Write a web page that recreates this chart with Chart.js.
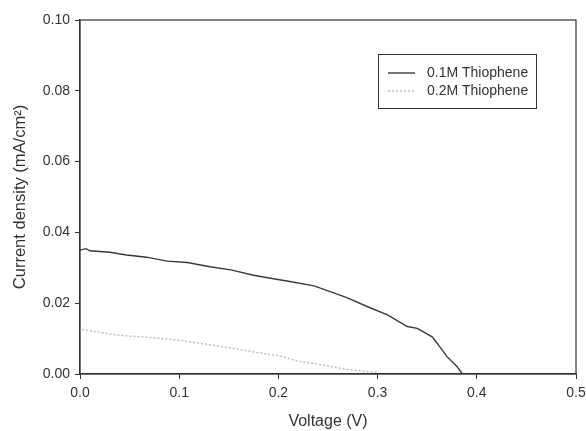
<!DOCTYPE html>
<html>
<head>
<meta charset="utf-8">
<script src="https://cdn.jsdelivr.net/npm/chart.js@4.4.1/dist/chart.umd.min.js"></script>
<style>
  html, body { margin: 0; padding: 0; background: #fff; }
  #wrap { width: 586px; height: 431px; }
</style>
</head>
<body>
<div id="wrap"><canvas id="chart" width="586" height="431"></canvas></div>
<script>
// 0.1M Thiophene (solid line)
const voltage01 = [0.000, 0.006, 0.010, 0.030, 0.047, 0.067, 0.088, 0.108, 0.131, 0.152, 0.175, 0.195,
    0.210, 0.236, 0.269, 0.290, 0.310, 0.330, 0.340, 0.355, 0.360, 0.370, 0.380, 0.3855];
const current01 = [0.0350, 0.0354, 0.0348, 0.0344, 0.0336, 0.0330, 0.0319, 0.0315, 0.0303, 0.0294, 0.0279, 0.0269,
    0.0262, 0.0249, 0.0216, 0.0190, 0.0167, 0.0134, 0.0129, 0.0105, 0.0087, 0.0049, 0.0021, 0.0000];

// 0.2M Thiophene (dotted line)
const voltage02 = [0.002, 0.010, 0.037, 0.071, 0.098, 0.121, 0.155, 0.189, 0.202, 0.222, 0.236, 0.269, 0.300];
const current02 = [0.0126, 0.0122, 0.0110, 0.0103, 0.0096, 0.0087, 0.0072, 0.0056, 0.0051, 0.0035, 0.0030, 0.0013, 0.0004];

const seriesNames = ['0.1M Thiophene', '0.2M Thiophene'];
const xTicks = [0.0, 0.1, 0.2, 0.3, 0.4, 0.5];
const yTicks = [0.00, 0.02, 0.04, 0.06, 0.08, 0.10];

const axisColor = '#333';
const textColor = '#333';
const fontFamily = '"Liberation Sans", Arial, sans-serif';

function toPoints(xs, ys) {
    return xs.map((x, i) => ({x: x, y: ys[i]}));
}

// full frame around the plot area + legend box inside it
const framePlugin = {
    id: 'frame',
    afterDraw(chart) {
        const ctx = chart.ctx;
        const a = chart.chartArea;
        ctx.save();
        ctx.strokeStyle = axisColor;
        ctx.lineWidth = 1.2;
        ctx.strokeRect(a.left, a.top, a.right - a.left, a.bottom - a.top);

        // legend
        const bx = a.right - 198, by = a.top + 34, bw = 158, bh = 54;
        ctx.lineWidth = 1;
        ctx.strokeRect(bx + 0.5, by + 0.5, bw, bh);
        ctx.font = '14px ' + fontFamily;
        ctx.textBaseline = 'middle';
        chart.data.datasets.forEach((ds, i) => {
            const y = by + 19 + i * 18;
            ctx.strokeStyle = ds.borderColor;
            ctx.lineWidth = ds.borderWidth;
            ctx.setLineDash(ds.borderDash || []);
            ctx.beginPath();
            ctx.moveTo(bx + 10, y);
            ctx.lineTo(bx + 37, y);
            ctx.stroke();
            ctx.setLineDash([]);
            ctx.fillStyle = textColor;
            ctx.fillText(ds.label, bx + 49, y);
        });
        ctx.restore();
    }
};

new Chart(document.getElementById('chart'), {
    type: 'line',
    data: {
        datasets: [{
            label: seriesNames[0],
            data: toPoints(voltage01, current01),
            borderColor: '#3a3a3a',
            borderWidth: 1.4,
            pointRadius: 0,
            tension: 0,
            fill: false
        }, {
            label: seriesNames[1],
            data: toPoints(voltage02, current02),
            borderColor: '#c9b9bd',
            borderWidth: 1.5,
            borderDash: [2, 2],
            pointRadius: 0,
            tension: 0,
            fill: false
        }]
    },
    options: {
        responsive: false,
        animation: false,
        layout: {padding: {left: 0, right: 10, top: 20, bottom: 0}},
        plugins: {legend: {display: false}, tooltip: {enabled: false}},
        scales: {
            x: {
                type: 'linear',
                min: 0,
                max: 0.5,
                afterBuildTicks(scale) {
                    scale.ticks = xTicks.map(v => ({value: v}));
                },
                afterFit(scale) {
                    scale.height = 57;
                    scale.paddingRight = 0;
                    scale.paddingLeft = 0;
                },
                grid: {drawOnChartArea: false, color: axisColor, tickLength: 5, tickColor: axisColor},
                border: {color: axisColor, width: 1.2},
                ticks: {
                    color: textColor,
                    padding: 6,
                    maxRotation: 0,
                    font: {family: fontFamily, size: 14},
                    callback: v => v.toFixed(1)
                },
                title: {
                    display: true,
                    text: 'Voltage (V)',
                    color: textColor,
                    padding: {top: 0, bottom: 0},
                    font: {family: fontFamily, size: 16}
                }
            },
            y: {
                type: 'linear',
                min: 0,
                max: 0.1,
                afterBuildTicks(scale) {
                    scale.ticks = yTicks.map(v => ({value: v}));
                },
                afterFit(scale) {
                    scale.width = 80;
                    scale.paddingTop = 0;
                    scale.paddingBottom = 0;
                },
                grid: {drawOnChartArea: false, color: axisColor, tickLength: 5, tickColor: axisColor},
                border: {color: axisColor, width: 1.2},
                ticks: {
                    color: textColor,
                    padding: 5,
                    font: {family: fontFamily, size: 14},
                    callback: v => v.toFixed(2)
                },
                title: {
                    display: true,
                    text: 'Current density (mA/cm²)',
                    color: textColor,
                    padding: {top: 11, bottom: 0},
                    font: {family: fontFamily, size: 16.5}
                }
            }
        }
    },
    plugins: [framePlugin]
});
</script>
</body>
</html>
